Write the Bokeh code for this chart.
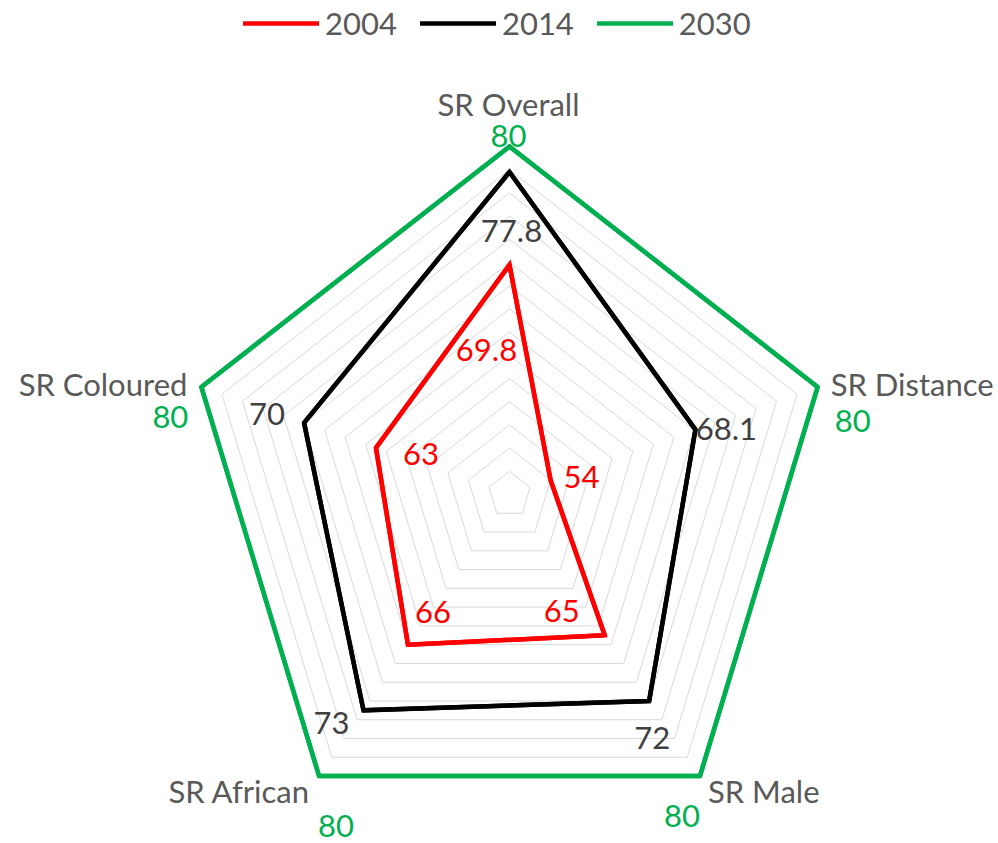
import numpy as np
from bokeh.plotting import figure
from bokeh.models import Range1d, Legend, LegendItem, ColumnDataSource
from bokeh.core.properties import value
from bokeh.embed import file_html
from bokeh.resources import INLINE

# ---- data ----
categories = ["SR Overall", "SR Distance", "SR Male", "SR African", "SR Coloured"]
years = ["2004", "2014", "2030"]
v2004 = [69.8, 54, 65, 66, 63]
v2014 = [77.8, 68.1, 72, 73, 70]
v2030 = [80, 80, 80, 80, 80]
label2004 = ["69.8", "54", "65", "66", "63"]
label2014 = ["77.8", "68.1", "72", "73", "70"]
label2030 = ["80", "80", "80", "80", "80"]
r_min, r_max, r_step = 50, 80, 2

# ---- styles ----
colors = {"2004": "#FF0000", "2014": "#000000", "2030": "#00B050"}
label_colors = {"2004": "#FF0000", "2014": "#404040", "2030": "#00B050"}
FONT = "Lato"
FS = "31px"
# label offsets in screen pixels (dx, dy down)
off2004 = [(-23, 85), (31, -3), (-43, -24), (25, -33), (45, 6)]
off2014 = [(2, 59), (31, -1), (3, 37), (-32, 13), (-37, -9)]
off2030 = [(-1, -11), (35, 34), (-18, 40), (17, 50), (-31, 30)]
cat_off = [(-1, -43), (13, -3), (8, 15), (-9, 15), (-14, -3)]
cat_align = ["center", "left", "left", "right", "right"]

n = len(categories)
theta = np.deg2rad(90 - 360.0 / n * np.arange(n))


def to_xy(vals):
    f = (np.asarray(vals, dtype=float) - r_min) / (r_max - r_min)
    return list(f * np.cos(theta)), list(f * np.sin(theta))


# pixel geometry of the reference: centre (509, 494), radius 324 x / 348 y
W, H = 998, 843
cx, cy, rx, ry = 509, 494, 324, 348
p = figure(width=W, height=H, output_backend="svg", toolbar_location=None,
           x_range=Range1d((0 - cx) / rx, (W - cx) / rx),
           y_range=Range1d((cy - H) / ry, (cy - 0) / ry),
           x_axis_location=None, y_axis_location=None, min_border=0)
p.grid.visible = False
p.outline_line_color = None
p.background_fill_color = "white"

# gridlines
gx, gy = [], []
for lev in range(r_min + r_step, r_max + 1, r_step):
    xs, ys = to_xy([lev] * n)
    gx.append(xs)
    gy.append(ys)
p.patches(gx, gy, fill_color=None, line_color="#D9D9D9", line_width=1)

series = {"2004": v2004, "2014": v2014, "2030": v2030}
labels = {"2004": label2004, "2014": label2014, "2030": label2030}
offs = {"2004": off2004, "2014": off2014, "2030": off2030}
items = []
for yr in years:
    xs, ys = to_xy(series[yr])
    # line renderer (used for the legend), covered by the mitred closed patch
    ln = p.line(xs + xs[:1], ys + ys[:1], line_color=colors[yr], line_width=4.5,
                line_cap="round")
    p.patch(xs, ys, fill_color=None, line_color=colors[yr], line_width=4.5,
            line_join="miter")
    items.append(LegendItem(label=yr, renderers=[ln]))

for yr in years:
    xs, ys = to_xy(series[yr])
    src = ColumnDataSource(dict(x=xs, y=ys, t=labels[yr],
                                dx=[o[0] for o in offs[yr]],
                                dy=[o[1] for o in offs[yr]]))
    p.text("x", "y", "t", source=src, x_offset="dx", y_offset="dy",
           text_font=value(FONT), text_font_size=FS, text_color=label_colors[yr],
           text_align="center", text_baseline="middle")

# category labels
cxs, cys = to_xy([r_max] * n)
src = ColumnDataSource(dict(x=cxs, y=cys, t=categories,
                            dx=[o[0] for o in cat_off], dy=[o[1] for o in cat_off],
                            al=cat_align))
p.text("x", "y", "t", source=src, x_offset="dx", y_offset="dy", text_align="al",
       text_font=value(FONT), text_font_size=FS, text_color="#595959",
       text_baseline="middle")

legend = Legend(items=items, orientation="horizontal", location=(243, H - 42),
                glyph_width=76, glyph_height=20, label_standoff=6, spacing=23,
                padding=0, margin=0, border_line_alpha=0, background_fill_alpha=0,
                label_text_font=FONT, label_text_font_size=FS,
                label_text_color="#595959")
p.add_layout(legend)

open("out.html", "w").write(file_html(p, INLINE))
